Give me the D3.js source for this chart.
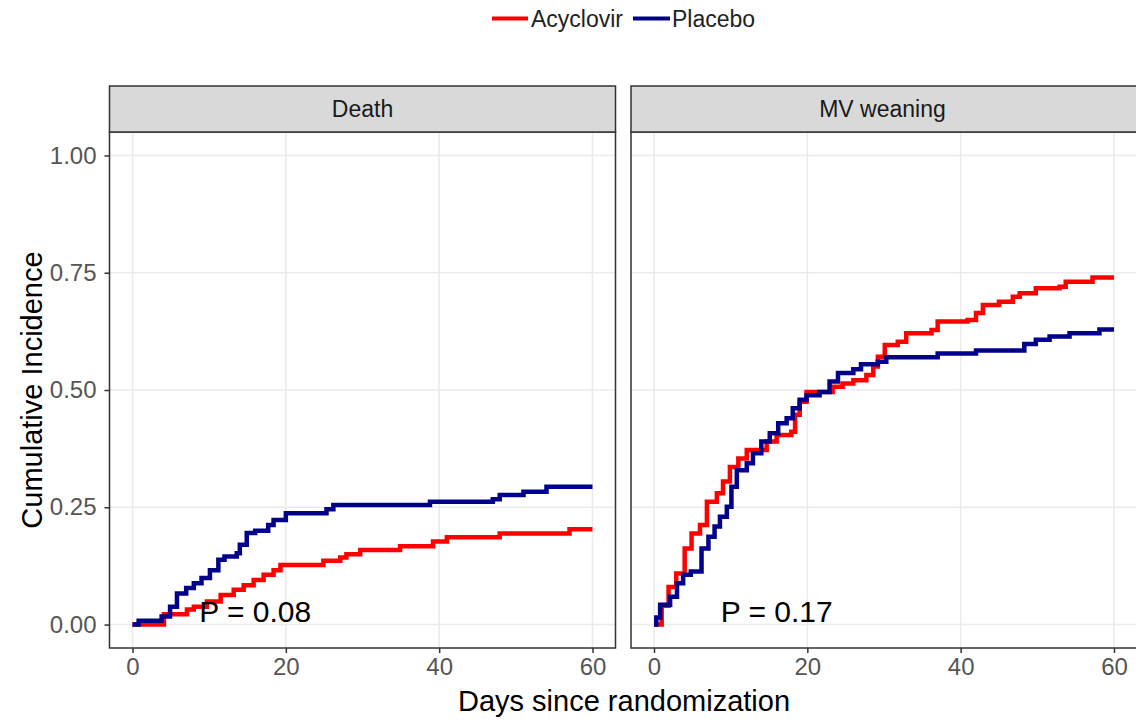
<!DOCTYPE html>
<html>
<head>
<meta charset="utf-8">
<script src="https://cdn.jsdelivr.net/npm/d3@7"></script>
<style>
  html, body { margin: 0; padding: 0; background: #fff; }
  svg { display: block; font-family: "Liberation Sans", Arial, Helvetica, sans-serif; }
</style>
</head>
<body>
<svg id="chart" width="1136" height="722"></svg>
<script>
// ---------------- DATA ----------------
const panels = ["Death", "MV weaning"];
const groups = ["Acyclovir", "Placebo"];
const groupColors = ["#ff0000", "#00008b"];
const xTicks = [0, 20, 40, 60];
const yTicks = [0, 0.25, 0.5, 0.75, 1.0];
const yTickLabels = ["0.00", "0.25", "0.50", "0.75", "1.00"];
const pLabels = ["P = 0.08", "P = 0.17"];
const pLabelDay = 16;
const pLabelValue = 0.006;

// Death - Acyclovir
const deathAcycDays = [0, 4.1, 7.1, 8, 9.7, 11.5, 13.2, 14.5, 15.8, 17.1, 18.4, 19.3, 24.9, 27.1, 27.9, 29.7, 34.9, 39.2, 41, 47.9, 57, 60];
const deathAcycCI   = [0, 0.022, 0.032, 0.038, 0.049, 0.063, 0.074, 0.084, 0.095, 0.106, 0.116, 0.127, 0.136, 0.143, 0.15, 0.159, 0.167, 0.177, 0.186, 0.194, 0.203, 0.203];
// Death - Placebo
const deathPlacDays = [0, 0.8, 3.8, 4.9, 5.8, 7, 8, 9, 10.1, 11.2, 12, 13.6, 14, 14.9, 16, 17.7, 18.4, 20, 25.3, 26.2, 38.8, 47, 47.9, 51, 54, 60];
const deathPlacCI   = [0, 0.008, 0.017, 0.038, 0.066, 0.078, 0.088, 0.099, 0.116, 0.138, 0.145, 0.152, 0.17, 0.195, 0.2, 0.212, 0.223, 0.237, 0.246, 0.255, 0.262, 0.267, 0.276, 0.283, 0.294, 0.294];
// MV weaning - Acyclovir
const mvAcycDays = [0, 1.0, 1.9, 2.9, 4, 4.9, 6, 6.9, 8.2, 9, 9.9, 11, 12.1, 14.7, 16, 17.9, 18.4, 19, 19.9, 23.3, 24.6, 26, 27.7, 28.6, 29.2, 30.1, 31.8, 32.9, 36.2, 37, 40.9, 42, 42.9, 45, 46.8, 47.7, 49.8, 52.9, 53.7, 57.2, 60];
const mvAcycCI   = [0, 0.04, 0.08, 0.109, 0.162, 0.194, 0.212, 0.262, 0.28, 0.305, 0.336, 0.354, 0.372, 0.39, 0.404, 0.411, 0.447, 0.475, 0.496, 0.507, 0.514, 0.521, 0.532, 0.55, 0.571, 0.596, 0.603, 0.621, 0.628, 0.646, 0.649, 0.664, 0.681, 0.688, 0.699, 0.706, 0.717, 0.72, 0.731, 0.74, 0.74];
// MV weaning - Placebo
const mvPlacDays = [0, 0.3, 0.8, 2.1, 3, 3.8, 4.8, 6.2, 7.1, 7.9, 8.6, 9.5, 10.1, 10.8, 12.1, 12.9, 14, 15.1, 16.2, 17.3, 18.1, 19, 19.9, 21.6, 22.9, 24, 26, 27, 29.2, 30.3, 37, 42, 48.3, 49.8, 51.6, 54.2, 58.1, 60];
const mvPlacCI   = [0, 0.015, 0.042, 0.059, 0.088, 0.106, 0.113, 0.162, 0.187, 0.209, 0.23, 0.251, 0.294, 0.329, 0.344, 0.365, 0.39, 0.408, 0.429, 0.44, 0.461, 0.479, 0.489, 0.496, 0.518, 0.536, 0.544, 0.555, 0.56, 0.57, 0.578, 0.584, 0.598, 0.607, 0.614, 0.621, 0.629, 0.629];

const seriesByPanel = [
  [[deathAcycDays, deathAcycCI], [deathPlacDays, deathPlacCI]],
  [[mvAcycDays, mvAcycCI], [mvPlacDays, mvPlacCI]]
];

// ---------------- LAYOUT ----------------
const svg = d3.select("#chart");
const panelX0 = [109.5, 631];
const panelW = 506;
const panelTop = 132, panelBottom = 648;
const stripTop = 86;
const xDomain = [-3, 63];
const yScale = d3.scaleLinear().domain([-0.05, 1.05]).range([panelBottom, panelTop]);

svg.append("rect").attr("width", 1136).attr("height", 722).attr("fill", "#fff");

const lineGen = (xs) => d3.line()
  .x(d => xs(d[0]))
  .y(d => yScale(d[1]))
  .curve(d3.curveStepAfter);

panels.forEach((name, i) => {
  const x0 = panelX0[i];
  const xScale = d3.scaleLinear().domain(xDomain).range([x0, x0 + panelW]);
  const g = svg.append("g");

  // grid
  g.selectAll(".hgrid").data(yTicks).enter().append("line")
    .attr("x1", x0).attr("x2", x0 + panelW)
    .attr("y1", d => yScale(d)).attr("y2", d => yScale(d))
    .attr("stroke", "#ebebeb").attr("stroke-width", 1.6);
  g.selectAll(".vgrid").data(xTicks).enter().append("line")
    .attr("x1", d => xScale(d)).attr("x2", d => xScale(d))
    .attr("y1", panelTop).attr("y2", panelBottom)
    .attr("stroke", "#ebebeb").attr("stroke-width", 1.6);

  // curves
  seriesByPanel[i].forEach((s, k) => {
    const pts = s[0].map((t, j) => [t, s[1][j]]);
    g.append("path")
      .attr("d", lineGen(xScale)(pts))
      .attr("fill", "none")
      .attr("stroke", groupColors[k])
      .attr("stroke-width", 4.5)
      .attr("stroke-linejoin", "miter");
  });

  // P label
  g.append("text")
    .attr("x", xScale(pLabelDay)).attr("y", yScale(pLabelValue))
    .attr("text-anchor", "middle")
    .attr("font-size", 30).attr("fill", "#000")
    .text(pLabels[i]);

  // panel border
  g.append("rect")
    .attr("x", x0).attr("y", panelTop).attr("width", panelW).attr("height", panelBottom - panelTop)
    .attr("fill", "none").attr("stroke", "#333").attr("stroke-width", 1.5);

  // strip
  g.append("rect")
    .attr("x", x0).attr("y", stripTop).attr("width", panelW).attr("height", panelTop - stripTop)
    .attr("fill", "#d9d9d9").attr("stroke", "#333").attr("stroke-width", 1.5);
  g.append("text")
    .attr("x", x0 + panelW / 2 - (i === 1 ? 1.5 : 0)).attr("y", (stripTop + panelTop) / 2)
    .attr("dy", "0.36em")
    .attr("text-anchor", "middle").attr("font-size", 23).attr("fill", "#1a1a1a")
    .text(name);

  // x axis
  const xAxis = d3.axisBottom(xScale).tickValues(xTicks).tickSize(5).tickPadding(5).tickFormat(d3.format("d"));
  const xa = svg.append("g").attr("transform", `translate(0,${panelBottom})`).call(xAxis);
  xa.select(".domain").remove();
  xa.selectAll(".tick line").attr("stroke", "#333").attr("stroke-width", 1.5);
  xa.selectAll(".tick text").attr("font-size", 24).attr("fill", "#555")
    .attr("font-family", "Liberation Sans, Arial, sans-serif");

  if (i === 0) {
    const yAxis = d3.axisLeft(yScale).tickValues(yTicks).tickSize(5).tickPadding(8)
      .tickFormat((d, j) => yTickLabels[j]);
    const ya = svg.append("g").attr("transform", `translate(${x0},0)`).call(yAxis);
    ya.select(".domain").remove();
    ya.selectAll(".tick line").attr("stroke", "#333").attr("stroke-width", 1.5);
    ya.selectAll(".tick text").attr("font-size", 24).attr("fill", "#555")
      .attr("font-family", "Liberation Sans, Arial, sans-serif");
  }
});

// axis titles
svg.append("text")
  .attr("x", 624).attr("y", 711)
  .attr("text-anchor", "middle").attr("font-size", 29).attr("fill", "#000")
  .text("Days since randomization");
svg.append("text")
  .attr("transform", `translate(42,${(panelTop + panelBottom) / 2}) rotate(-90)`)
  .attr("text-anchor", "middle").attr("font-size", 29).attr("fill", "#000")
  .text("Cumulative Incidence");

// legend
const legendItems = [
  { label: groups[0], color: groupColors[0], x1: 492, x2: 528, tx: 531 },
  { label: groups[1], color: groupColors[1], x1: 633, x2: 670, tx: 672 }
];
const lg = svg.append("g");
legendItems.forEach(it => {
  lg.append("line").attr("x1", it.x1).attr("x2", it.x2).attr("y1", 18.5).attr("y2", 18.5)
    .attr("stroke", it.color).attr("stroke-width", 4);
  lg.append("text").attr("x", it.tx).attr("y", 27).attr("font-size", 23).attr("fill", "#222")
    .text(it.label);
});
</script>
</body>
</html>
